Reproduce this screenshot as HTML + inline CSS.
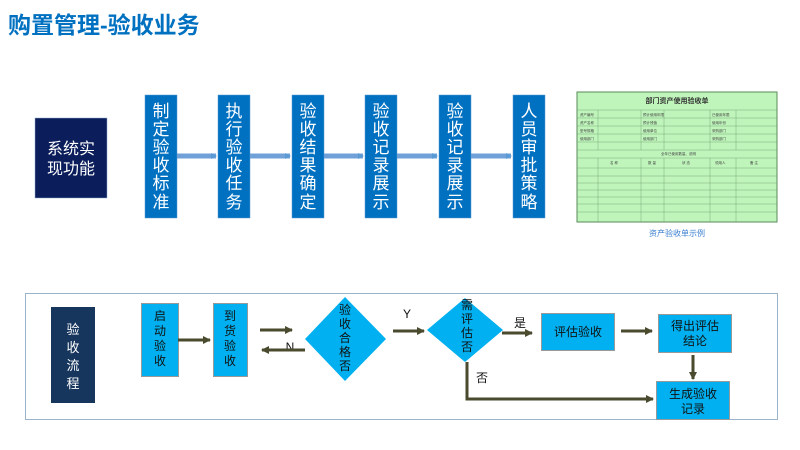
<!DOCTYPE html>
<html><head><meta charset="utf-8"><style>
body{margin:0;width:800px;height:450px;background:#fff;overflow:hidden}
svg{display:block}
text{font-family:"Liberation Sans","Noto Sans CJK SC",sans-serif}
</style></head><body>
<svg width="800" height="450" viewBox="0 0 800 450" xmlns="http://www.w3.org/2000/svg">
<defs>
<marker id="la" markerWidth="6" markerHeight="6" refX="5" refY="3" orient="auto" markerUnits="userSpaceOnUse"><path d="M0,0 L6,3 L0,6 Z" fill="#5b9bd5"/></marker>
<marker id="da" markerWidth="8" markerHeight="8" refX="7" refY="4" orient="auto" markerUnits="userSpaceOnUse"><path d="M0,0 L8,4 L0,8 Z" fill="#4a4a2e"/></marker>
</defs>
<text x="8" y="33" font-size="23" font-weight="bold" fill="#0070c0">购置管理-验收业务</text>

<rect x="35" y="118" width="72" height="80" fill="#0b1e5b" stroke="#8ea9cf" stroke-width="0.5"/>
<text x="71" y="154" font-size="16" fill="#fff" text-anchor="middle">系统实</text>
<text x="71" y="174" font-size="16" fill="#fff" text-anchor="middle">现功能</text>

<g fill="#0070c0" stroke="#5b9bd5" stroke-width="0.5">
<rect x="145" y="95" width="32" height="123"/>
<rect x="218" y="95" width="32" height="123"/>
<rect x="292" y="95" width="32" height="123"/>
<rect x="365" y="95" width="32" height="123"/>
<rect x="439" y="95" width="32" height="123"/>
<rect x="513" y="95" width="32" height="123"/>
</g>
<g stroke="#6fa0d8" stroke-width="5" marker-end="url(#la)">
<line x1="177" y1="156" x2="216" y2="156"/>
<line x1="250" y1="156" x2="290" y2="156"/>
<line x1="324" y1="156" x2="363" y2="156"/>
<line x1="397" y1="156" x2="437" y2="156"/>
<line x1="471" y1="156" x2="511" y2="156"/>
</g>
<g font-size="17" fill="#fff" text-anchor="middle">
<text x="161" y="117">制</text><text x="161" y="135">定</text><text x="161" y="153">验</text><text x="161" y="171">收</text><text x="161" y="189">标</text><text x="161" y="208">准</text>
<text x="234" y="117">执</text><text x="234" y="135">行</text><text x="234" y="153">验</text><text x="234" y="171">收</text><text x="234" y="189">任</text><text x="234" y="208">务</text>
<text x="308" y="117">验</text><text x="308" y="135">收</text><text x="308" y="153">结</text><text x="308" y="171">果</text><text x="308" y="189">确</text><text x="308" y="208">定</text>
<text x="381" y="117">验</text><text x="381" y="135">收</text><text x="381" y="153">记</text><text x="381" y="171">录</text><text x="381" y="189">展</text><text x="381" y="208">示</text>
<text x="455" y="117">验</text><text x="455" y="135">收</text><text x="455" y="153">记</text><text x="455" y="171">录</text><text x="455" y="189">展</text><text x="455" y="208">示</text>
<text x="529" y="117">人</text><text x="529" y="135">员</text><text x="529" y="153">审</text><text x="529" y="171">批</text><text x="529" y="189">策</text><text x="529" y="208">略</text>
</g>

<!-- form image -->
<rect x="577" y="92" width="200" height="130" fill="#bff5bb" stroke="#5a8a5a" stroke-width="1"/>
<text x="677" y="103" font-size="7" font-weight="bold" fill="#333" text-anchor="middle">部门资产使用验收单</text>
<g stroke="#6a9a6a" stroke-width="0.4">
<line x1="577" y1="110" x2="777" y2="110"/><line x1="577" y1="118" x2="777" y2="118"/>
<line x1="577" y1="126" x2="777" y2="126"/><line x1="577" y1="134" x2="777" y2="134"/>
<line x1="577" y1="142" x2="777" y2="142"/><line x1="577" y1="150" x2="777" y2="150"/>
<line x1="577" y1="158" x2="777" y2="158"/><line x1="577" y1="168" x2="777" y2="168"/>
<line x1="577" y1="176" x2="777" y2="176"/><line x1="577" y1="183" x2="777" y2="183"/>
<line x1="577" y1="190" x2="777" y2="190"/><line x1="577" y1="197" x2="777" y2="197"/>
<line x1="577" y1="204" x2="777" y2="204"/><line x1="577" y1="212" x2="777" y2="212"/>
<line x1="598" y1="110" x2="598" y2="150"/><line x1="641" y1="110" x2="641" y2="150"/>
<line x1="664" y1="110" x2="664" y2="150"/><line x1="710" y1="110" x2="710" y2="150"/><line x1="736" y1="110" x2="736" y2="150"/>
<line x1="598" y1="158" x2="598" y2="222"/><line x1="641" y1="158" x2="641" y2="222"/>
<line x1="664" y1="158" x2="664" y2="222"/><line x1="710" y1="158" x2="710" y2="222"/><line x1="736" y1="158" x2="736" y2="222"/>
</g>
<g font-size="3.5" fill="#444">
<text x="580" y="116">资产编号</text><text x="580" y="124">资产名称</text><text x="580" y="132">型号规格</text><text x="580" y="140">使用部门</text>
<text x="643" y="116">预计使用年限</text><text x="643" y="124">预计残值</text><text x="643" y="132">使用单位</text><text x="643" y="140">使用部门</text>
<text x="712" y="116">已使用年限</text><text x="712" y="124">使用年份</text><text x="712" y="132">采购部门</text><text x="712" y="140">采购部门</text>
<text x="661" y="155">全年已使用数量、说明</text>
<text x="610" y="164">名 称</text><text x="648" y="164">数 量</text><text x="682" y="164">状 态</text><text x="715" y="164">领用人</text><text x="750" y="164">备 注</text>
</g>
<text x="677" y="236" font-size="8" fill="#3a7fd0" text-anchor="middle">资产验收单示例</text>

<!-- bottom -->
<rect x="25.5" y="293.5" width="752" height="126" fill="none" stroke="#9bb3cc" stroke-width="1"/>
<rect x="51" y="307" width="44" height="96" fill="#17365d"/>
<g font-size="13" fill="#fff" text-anchor="middle">
<text x="73" y="334">验</text><text x="73" y="352">收</text><text x="73" y="370">流</text><text x="73" y="388">程</text>
</g>
<g fill="#00b0f0" stroke="#999" stroke-width="1">
<rect x="141.5" y="303.5" width="37" height="73"/>
<rect x="213.5" y="303.5" width="34" height="73"/>
<rect x="541.5" y="313.5" width="73" height="37"/>
<rect x="658.5" y="314.5" width="73" height="38"/>
<rect x="656.5" y="381.5" width="73" height="38"/>
</g>
<polygon points="345,297 386,339 345,381 305,339" fill="#00b0f0"/>
<polygon points="465,298 503,330 465,362 427,330" fill="#00b0f0"/>
<g font-size="12" fill="#111" text-anchor="middle">
<text x="160" y="320">启</text><text x="160" y="335">动</text><text x="160" y="350">验</text><text x="160" y="365">收</text>
<text x="230" y="320">到</text><text x="230" y="335">货</text><text x="230" y="350">验</text><text x="230" y="365">收</text>
<text x="345" y="314">验</text><text x="345" y="328">收</text><text x="345" y="342">合</text><text x="345" y="356">格</text><text x="345" y="370">否</text>
<text x="467" y="309">需</text><text x="467" y="323">评</text><text x="467" y="337">估</text><text x="467" y="351">否</text>
<text x="578" y="336">评估验收</text>
<text x="695" y="330">得出评估</text><text x="695" y="345">结论</text>
<text x="693" y="398">生成验收</text><text x="693" y="413">记录</text>
<text x="407" y="318">Y</text><text x="290" y="351">N</text>
<text x="520" y="327">是</text><text x="482" y="382">否</text>
</g>
<g stroke="#4a4a2e" stroke-width="3" fill="none" marker-end="url(#da)">
<line x1="178" y1="340" x2="210" y2="340"/>
<line x1="260" y1="330" x2="292" y2="330"/>
<line x1="305" y1="350" x2="262" y2="350"/>
<line x1="393" y1="331" x2="424" y2="331"/>
<line x1="502" y1="333" x2="532" y2="333"/>
<line x1="621" y1="331" x2="652" y2="331"/>
<line x1="693" y1="355" x2="693" y2="379"/>
<polyline points="467,362 467,399 653,399"/>
</g>
</svg>
</body></html>
